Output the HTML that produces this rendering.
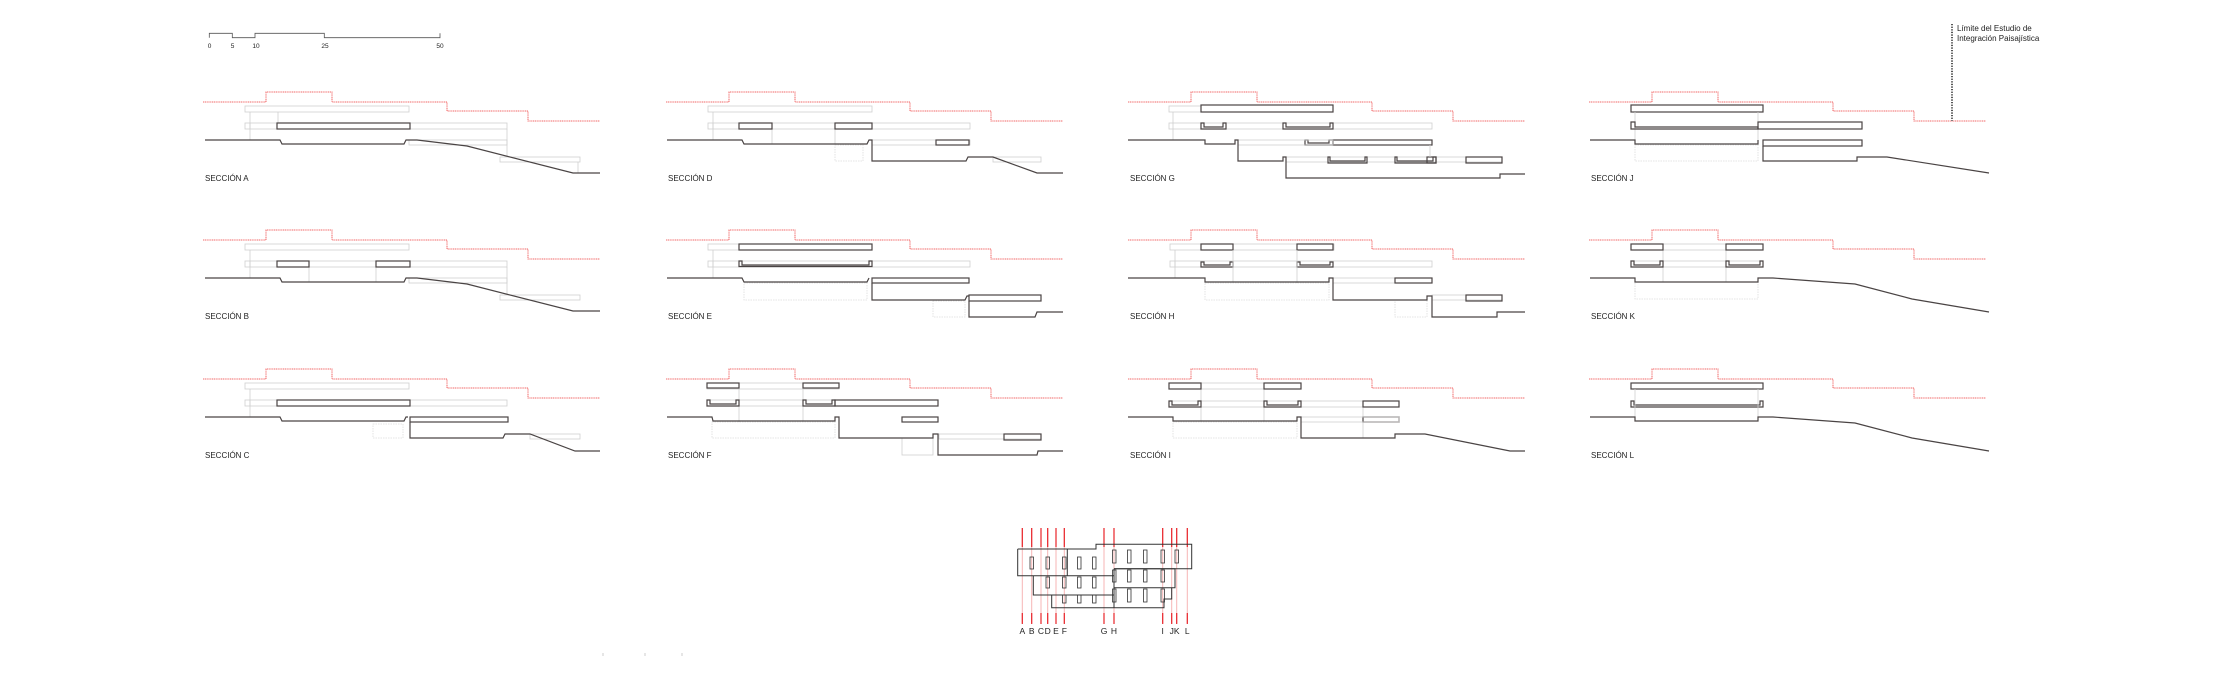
<!DOCTYPE html>
<html><head><meta charset="utf-8"><style>
html,body{margin:0;padding:0;background:#fff;}
svg{display:block;}
text{font-family:"Liberation Sans",sans-serif;fill:#222;}
.r{fill:none;stroke:#f26a6a;stroke-width:1;stroke-dasharray:1.2 0.6;}
.d{fill:none;stroke:#4a4444;stroke-width:1.2;}
.g{fill:none;stroke:#cfcfcf;stroke-width:0.8;}
.gd{fill:none;stroke:#ddd;stroke-width:0.8;stroke-dasharray:1.5 1;}
.l{font-size:8px;}
</style></head><body>
<svg width="2217" height="683" viewBox="0 0 2217 683" xmlns="http://www.w3.org/2000/svg">
<defs>
<g id="base">
<path class="r" d="M203,102 H266 V92 H332 V102 H447 V111 H528 V121 H600"/>
<rect class="g" x="245" y="106" width="164" height="6"/>
<rect class="g" x="245" y="123" width="262" height="6"/>
<line class="g" x1="250" y1="112" x2="250" y2="140"/>
<line class="g" x1="250" y1="129" x2="250" y2="123"/>
</g>
</defs>

<!-- scale bar -->
<path d="M209.3,37.7 V33.3 H232.3 V37.7 H255 V33.3 H324.3 V37.7 H440 V33.3" fill="none" stroke="#555" stroke-width="0.8"/>
<g font-size="6.5" text-anchor="middle"><text x="209.5" y="48">0</text><text x="232.5" y="48">5</text><text x="256" y="48">10</text><text x="325" y="48">25</text><text x="440" y="48">50</text></g>

<!-- Section A -->
<g>
<use href="#base"/>
<line class="g" x1="278" y1="112" x2="278" y2="123"/>
<rect class="g" x="409" y="140" width="98" height="5"/>
<line class="g" x1="507" y1="129" x2="507" y2="157"/>
<rect class="g" x="500" y="157" width="80" height="5"/>
<line class="g" x1="578" y1="162" x2="578" y2="173"/>
<rect class="d" x="277" y="123" width="133" height="6"/>
<path class="d" d="M205,140 H280 L282,144 H404 L406,140 H417 L467,146 L573,173 H600"/>
<text class="l" x="205" y="181">SECCIÓN A</text>
</g>
<!-- Section B -->
<g transform="translate(0,138)">
<use href="#base"/>
<line class="g" x1="309" y1="129" x2="309" y2="144"/><line class="g" x1="376" y1="129" x2="376" y2="144"/>
<rect class="g" x="409" y="140" width="98" height="5"/>
<line class="g" x1="507" y1="129" x2="507" y2="157"/>
<rect class="g" x="500" y="157" width="80" height="5"/>
<rect class="d" x="277" y="123" width="32" height="6"/><rect class="d" x="376" y="123" width="34" height="6"/>
<path class="d" d="M205,140 H280 L282,144 H404 L406,140 H417 L467,146 L573,173 H600"/>
<text class="l" x="205" y="181">SECCIÓN B</text>
</g>
<!-- Section C -->
<g transform="translate(0,277)">
<use href="#base"/>
<rect class="d" x="277" y="123" width="133" height="6"/>
<rect class="d" x="410" y="140" width="98" height="5"/>
<rect class="gd" x="373" y="147" width="30" height="14"/>
<rect class="g" x="530" y="157" width="50" height="5"/>
<path class="d" d="M205,140 H280 L282,144 H404 L406,140 H408 M410,145 V161 H503 L505,157 H530 L575,174 H600"/>
<text class="l" x="205" y="181">SECCIÓN C</text>
</g>

<!-- Section D -->
<g transform="translate(463,0)">
<use href="#base"/>
<line class="g" x1="309" y1="129" x2="309" y2="144"/><line class="g" x1="372" y1="129" x2="372" y2="144"/>
<rect class="g" x="409" y="140" width="98" height="5"/>
<rect class="gd" x="372" y="145" width="28" height="16"/>
<rect class="g" x="530" y="157" width="48" height="5"/>
<rect class="d" x="276" y="123" width="33" height="6"/><rect class="d" x="372" y="123" width="37" height="6"/>
<rect class="d" x="473" y="140" width="33" height="5"/>
<path class="d" d="M204,140 H279 L281,144 H404 L406,140 H409 V161 H503 L505,157 H530 L574,173 H600"/>
<text class="l" x="205" y="181">SECCIÓN D</text>
</g>
<!-- Section E -->
<g transform="translate(463,138)">
<use href="#base"/>
<rect class="d" x="276" y="106" width="133" height="6"/>
<path class="d" d="M276,123 H279 V127 H406 V123 H409 V128.5 H276 Z"/>
<rect class="gd" x="281" y="145" width="123" height="17"/>
<rect class="gd" x="470" y="163" width="32" height="16"/>
<rect class="d" x="409" y="140" width="97" height="5"/>
<rect class="d" x="506" y="157" width="72" height="6"/>
<path class="d" d="M204,140 H279 L281,144 H404 L406,140 M409,145 V162 H502 L504,158 H506 M506,163 V179 H572 L574,174 H600"/>
<text class="l" x="205" y="181">SECCIÓN E</text>
</g>
<!-- Section F -->
<g transform="translate(463,277)">
<path class="r" d="M203,102 H266 V92 H332 V102 H447 V111 H528 V121 H600"/>
<rect class="g" x="244" y="106" width="132" height="6"/>
<rect class="g" x="244" y="123" width="128" height="6"/>
<line class="g" x1="276" y1="112" x2="276" y2="145"/><line class="g" x1="340" y1="112" x2="340" y2="145"/>
<rect class="d" x="244" y="106" width="32" height="5"/><rect class="d" x="340" y="106" width="36" height="5"/>
<path class="d" d="M244,123 H247 V127 H273 V123 H276 V129 H244 Z M340,123 H343 V127 H369 V123 H372 V129 H340 Z"/>
<rect class="d" x="372" y="123" width="103" height="6"/>
<rect class="gd" x="249" y="145" width="123" height="16"/>
<rect class="g" x="439" y="161" width="31" height="17"/>
<rect class="g" x="476" y="157" width="102" height="5"/>
<rect class="d" x="439" y="140" width="36" height="5"/>
<rect class="d" x="541" y="157" width="37" height="6"/>
<path class="d" d="M204,140 H249 L250,144 H372 V140 H376 V161 H470 V157 H475 V178 H574 L575,174 H600"/>
<text class="l" x="205" y="181">SECCIÓN F</text>
</g>

<!-- Section G -->
<g transform="translate(925,0)">
<path class="r" d="M203,102 H266 V92 H332 V102 H447 V111 H528 V121 H600"/>
<rect class="g" x="244" y="106" width="32" height="6"/>
<rect class="g" x="244" y="123" width="263" height="6"/>
<line class="g" x1="248" y1="112" x2="248" y2="140"/>
<rect class="d" x="276" y="105" width="132" height="7"/>
<path class="d" d="M276,123 H279 V127 H298 V123 H301 V129 H276 Z M358,123 H361 V127 H405 V123 H408 V129 H358 Z"/>
<rect class="d" x="408" y="140" width="99" height="5"/>
<path class="d" d="M380,140 H383 V143 H404 V140 H408 V145 H380 Z"/>
<rect class="g" x="313" y="140" width="95" height="5"/>
<rect class="g" x="361" y="157" width="216" height="5"/>
<path class="d" d="M403,157 H405 V161 H440 V157 H442 V163 H403 Z M470,157 H472 V161 H508 V157 H511 V163 H470 Z"/>
<rect class="d" x="502" y="157" width="9" height="6"/>
<rect class="d" x="541" y="157" width="36" height="6"/>
<line class="g" x1="505" y1="145" x2="505" y2="157"/>
<path class="d" d="M203,140 H280 V144 H310 V140 H313 V161 H358 V157 H361 V178 H575 V174 H600"/>
<text class="l" x="205" y="181">SECCIÓN G</text>
</g>
<!-- Section H -->
<g transform="translate(925,138)">
<use href="#base"/>
<rect class="d" x="276" y="106" width="32" height="6"/><rect class="d" x="372" y="106" width="36" height="6"/>
<path class="d" d="M276,124 H279 V127 H305 V124 H308 V129 H276 Z M372,124 H375 V127 H405 V124 H408 V129 H372 Z"/>
<line class="g" x1="308" y1="112" x2="308" y2="145"/><line class="g" x1="372" y1="112" x2="372" y2="145"/>
<rect class="gd" x="280" y="145" width="124" height="17"/>
<rect class="gd" x="470" y="162" width="32" height="17"/>
<rect class="g" x="408" y="140" width="99" height="5"/>
<rect class="g" x="507" y="157" width="70" height="5"/>
<rect class="d" x="470" y="140" width="37" height="5"/>
<rect class="d" x="541" y="157" width="36" height="6"/>
<path class="d" d="M203,140 H280 V144 H404 V140 H408 V162 H502 V158 H507 V179 H572 V174 H600"/>
<text class="l" x="205" y="181">SECCIÓN H</text>
</g>
<!-- Section I -->
<g transform="translate(925,277)">
<path class="r" d="M203,102 H266 V92 H332 V102 H447 V111 H528 V121 H600"/>
<rect class="g" x="244" y="106" width="132" height="6"/>
<rect class="g" x="244" y="124" width="230" height="6"/>
<line class="g" x1="276" y1="112" x2="276" y2="145"/><line class="g" x1="339" y1="112" x2="339" y2="145"/><line class="g" x1="438" y1="130" x2="438" y2="161"/>
<rect class="d" x="244" y="106" width="32" height="6"/><rect class="d" x="339" y="106" width="37" height="6"/>
<path class="d" d="M244,124 H247 V128 H273 V124 H276 V130 H244 Z M339,124 H342 V128 H373 V124 H376 V130 H339 Z"/>
<rect class="d" x="438" y="124" width="36" height="6"/>
<rect class="d" x="438" y="140" width="36" height="5"/>
<rect class="g" x="376" y="140" width="98" height="5"/>
<rect class="gd" x="248" y="145" width="124" height="16"/>
<path class="d" d="M203,140 H248 V144 H372 V140 H376 V161 H470 V157 H500 L585,174 H600"/>
<text class="l" x="205" y="181">SECCIÓN I</text>
</g>

<!-- Section J -->
<g transform="translate(1386,0)">
<path class="r" d="M203,102 H266 V92 H332 V102 H447 V111 H528 V121 H600"/>
<rect class="d" x="245" y="105" width="132" height="7"/>
<line class="g" x1="249" y1="112" x2="249" y2="145"/><line class="g" x1="372" y1="112" x2="372" y2="145"/>
<path class="d" d="M245,122 H249 V127 H372 V129 H245 Z"/>
<rect class="d" x="372" y="122" width="104" height="7"/>
<rect class="d" x="377" y="140" width="99" height="6"/>
<rect class="gd" x="249" y="145" width="123" height="16"/>
<path class="d" d="M204,140 H249 V144 H372 V140 M377,146 V161 H471 V157 H501 L603,173"/>
<line x1="566" y1="24" x2="566" y2="121" stroke="#111" stroke-width="1.4" stroke-dasharray="1.3 1.3"/>
<text x="571" y="31" font-size="8">Límite del Estudio de</text>
<text x="571" y="41" font-size="8">Integración Paisajística</text>
<text class="l" x="205" y="181">SECCIÓN J</text>
</g>
<!-- Section K -->
<g transform="translate(1386,138)">
<path class="r" d="M203,102 H266 V92 H332 V102 H447 V111 H528 V121 H600"/>
<rect class="g" x="245" y="106" width="132" height="6"/>
<rect class="g" x="245" y="123" width="132" height="6"/>
<line class="g" x1="277" y1="112" x2="277" y2="144"/><line class="g" x1="340" y1="112" x2="340" y2="144"/>
<rect class="d" x="245" y="106" width="32" height="6"/><rect class="d" x="340" y="106" width="37" height="6"/>
<path class="d" d="M245,123 H248 V127 H274 V123 H277 V129 H245 Z M340,123 H343 V127 H374 V123 H377 V129 H340 Z"/>
<rect class="gd" x="249" y="144" width="123" height="17"/>
<path class="d" d="M204,140 H249 V144 H372 V140 H387 L469,146 L526,161 L603,174"/>
<text class="l" x="205" y="181">SECCIÓN K</text>
</g>
<!-- Section L -->
<g transform="translate(1386,277)">
<path class="r" d="M203,102 H266 V92 H332 V102 H447 V111 H528 V121 H600"/>
<rect class="d" x="245" y="106" width="132" height="6"/>
<path class="d" d="M245,124 H248 V128 H374 V124 H377 V130 H245 Z"/>
<line class="g" x1="249" y1="112" x2="249" y2="144"/><line class="g" x1="372" y1="112" x2="372" y2="144"/>
<path class="d" d="M204,140 H249 V144 H372 V140 H387 L469,146 L526,161 L603,174"/>
<text class="l" x="205" y="181">SECCIÓN L</text>
</g>

<!-- Key plan -->
<g>
<g stroke="#f7b5b5" stroke-width="1">
<line x1="1022.3" y1="528" x2="1022.3" y2="623"/><line x1="1031.7" y1="528" x2="1031.7" y2="623"/><line x1="1041" y1="528" x2="1041" y2="623"/><line x1="1047.7" y1="528" x2="1047.7" y2="623"/><line x1="1056" y1="528" x2="1056" y2="623"/><line x1="1064.3" y1="528" x2="1064.3" y2="623"/><line x1="1104" y1="528" x2="1104" y2="623"/><line x1="1114" y1="528" x2="1114" y2="623"/><line x1="1162.7" y1="528" x2="1162.7" y2="623"/><line x1="1171.7" y1="528" x2="1171.7" y2="623"/><line x1="1176.7" y1="528" x2="1176.7" y2="623"/><line x1="1187.3" y1="528" x2="1187.3" y2="623"/>
</g>
<g stroke="#e8242a" stroke-width="1.2">
<path d="M1022.3,528V547 M1031.7,528V547 M1041,528V547 M1047.7,528V547 M1056,528V547 M1064.3,528V547 M1104,528V547 M1114,528V547 M1162.7,528V547 M1171.7,528V547 M1176.7,528V547 M1187.3,528V547"/>
<path d="M1022.3,613V624 M1031.7,613V624 M1041,613V624 M1047.7,613V624 M1056,613V624 M1064.3,613V624 M1104,613V624 M1114,613V624 M1162.7,613V624 M1171.7,613V624 M1176.7,613V624 M1187.3,613V624"/>
</g>
<g fill="none" stroke="#333" stroke-width="1">
<path d="M1017.7,549 H1096 V544.3 H1191.7 V568.7 H1114 M1017.7,549 V575.7 H1114"/>
<line x1="1067.3" y1="549" x2="1067.3" y2="575.7"/>
<path d="M1114,568.7 H1175 V587.7 H1114"/>
<path d="M1033.3,575.7 V595 H1114"/>
<path d="M1051.7,595 V607.7 H1164 V599 H1171.7 V587.7"/>
<line x1="1114" y1="568.7" x2="1114" y2="607.7"/>
</g>
<g fill="none" stroke="#333" stroke-width="0.8">
<rect x="1030" y="557" width="3.5" height="12"/><rect x="1046" y="557" width="3.5" height="12"/><rect x="1062.5" y="557" width="3.5" height="12"/><rect x="1077.5" y="557" width="3.5" height="12"/><rect x="1092.5" y="557" width="3.5" height="12"/>
<rect x="1112.5" y="550" width="3.5" height="13"/><rect x="1127.5" y="550" width="3.5" height="13"/><rect x="1143.5" y="550" width="3.5" height="13"/><rect x="1161" y="550" width="3.5" height="13"/><rect x="1175" y="550" width="3.5" height="13"/>
<rect x="1046" y="577" width="3.5" height="11"/><rect x="1062.5" y="577" width="3.5" height="11"/><rect x="1077.5" y="577" width="3.5" height="11"/><rect x="1092.5" y="577" width="3.5" height="11"/>
<rect x="1112.5" y="570" width="3.5" height="12"/><rect x="1127.5" y="570" width="3.5" height="12"/><rect x="1143.5" y="570" width="3.5" height="12"/><rect x="1161" y="570" width="3.5" height="12"/>
<rect x="1062.5" y="595" width="3.5" height="8"/><rect x="1077.5" y="595" width="3.5" height="8"/><rect x="1092.5" y="595" width="3.5" height="8"/>
<rect x="1112.5" y="589" width="3.5" height="13"/><rect x="1127.5" y="589" width="3.5" height="13"/><rect x="1143.5" y="589" width="3.5" height="13"/><rect x="1161" y="589" width="3.5" height="13"/>
</g>
<g font-size="8.5" text-anchor="middle">
<text x="1022.3" y="634">A</text><text x="1031.7" y="634">B</text><text x="1041" y="634">C</text><text x="1047.7" y="634">D</text><text x="1056" y="634">E</text><text x="1064.3" y="634">F</text><text x="1104" y="634">G</text><text x="1114" y="634">H</text><text x="1162.7" y="634">I</text><text x="1171.7" y="634">J</text><text x="1176.7" y="634">K</text><text x="1187.3" y="634">L</text>
</g>
</g>
<g stroke="#ccc" stroke-width="1"><line x1="603" y1="653" x2="603" y2="656"/><line x1="645" y1="653" x2="645" y2="656"/><line x1="682" y1="653" x2="682" y2="656"/></g>
</svg>
</body></html>
